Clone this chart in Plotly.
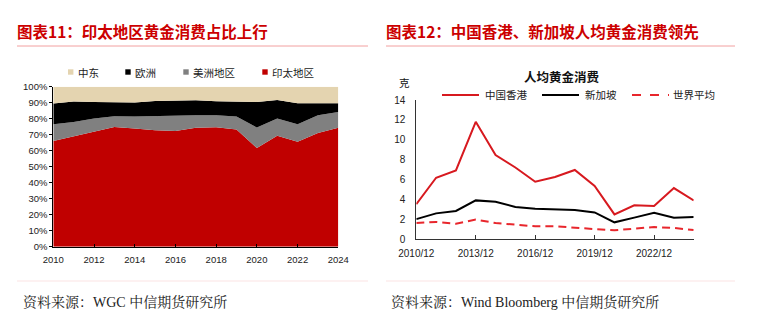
import plotly.graph_objects as go

W, H = 764, 324

def px(x):
    return x / W

def py(y):
    return 1 - y / H

# ---------------- data ----------------
years = list(range(2010, 2025))

# Chart 11: share of gold consumption by region (%)
asia_pacific = [66.0, 68.9, 72.0, 74.8, 73.8, 72.8, 72.3, 74.4, 74.7, 73.2, 61.7, 69.3, 65.6, 71.0, 74.4]
americas     = [10.6, 9.1, 8.2, 6.7, 7.6, 9.0, 9.6, 7.8, 7.5, 8.2, 12.8, 10.9, 10.9, 11.2, 9.8]
europe       = [12.9, 12.7, 10.2, 8.6, 8.7, 9.2, 9.5, 9.4, 8.7, 9.1, 16.0, 11.5, 13.1, 7.4, 5.4]
middle_east  = [10.5, 9.3, 9.6, 9.9, 9.9, 9.0, 8.6, 8.4, 9.1, 9.5, 9.5, 8.3, 10.4, 10.4, 10.4]
area_names = ["印太地区", "美洲地区", "欧洲", "中东"]
area_colors = ["#C00000", "#808080", "#000000", "#E4D4B0"]
left_xticks = list(range(2010, 2025, 2))

# Chart 12: per-capita gold consumption (grams)
hong_kong = [3.5, 6.17, 6.9, 11.8, 8.46, 7.2, 5.77, 6.25, 6.95, 5.34, 2.48, 3.39, 3.32, 5.13, 3.89]
singapore = [2.0, 2.58, 2.82, 3.89, 3.76, 3.22, 3.05, 2.99, 2.92, 2.68, 1.68, 2.15, 2.65, 2.15, 2.21]
world_avg = [1.61, 1.71, 1.54, 1.95, 1.61, 1.48, 1.28, 1.28, 1.17, 1.0, 0.87, 1.07, 1.21, 1.11, 0.9]
right_tickvals = [2010, 2013, 2016, 2019, 2022]
right_ticktext = ["2010/12", "2013/12", "2016/12", "2019/12", "2022/12"]

CJK = "Noto Sans CJK SC"
NUM = "Liberation Sans"
SERIF = "Liberation Serif, Noto Serif CJK SC, Noto Sans CJK SC"
TITLE_RED = "#CC0000"

fig = go.Figure()

for vals, name, col in zip([asia_pacific, americas, europe, middle_east], area_names, area_colors):
    fig.add_trace(go.Scatter(
        x=years, y=vals, name=name, stackgroup="share", mode="lines",
        line=dict(width=0, color=col), fillcolor=col, showlegend=False,
        xaxis="x", yaxis="y"))

line_specs = [
    (hong_kong, "中国香港", "#D7191F", "solid"),
    (singapore, "新加坡", "#000000", "solid"),
    (world_avg, "世界平均", "#E8262C", "8px,5px"),
]
for vals, name, col, dash in line_specs:
    fig.add_trace(go.Scatter(
        x=years, y=vals, name=name, mode="lines",
        line=dict(width=2, color=col, dash=dash), showlegend=False,
        xaxis="x2", yaxis="y2"))

tickfont = dict(family=NUM, size=9.5, color="#222")

fig.update_layout(
    width=W, height=H, margin=dict(l=0, r=0, t=0, b=0, autoexpand=False),
    paper_bgcolor="white", plot_bgcolor="white", showlegend=False,
    xaxis=dict(domain=[px(53.3), px(338.3)], range=[2010, 2024], tickvals=left_xticks,
               automargin=False, ticklabelstandoff=4,
               showline=True, linecolor="#000", linewidth=1, ticks="inside", ticklen=3,
               tickcolor="#000", tickfont=tickfont, showgrid=False, zeroline=False),
    yaxis=dict(domain=[py(246.7), py(86.7)], range=[0, 100], dtick=10, ticksuffix="%",
               automargin=False,
               showline=True, linecolor="#000", linewidth=1, ticks="outside", ticklen=3,
               tickcolor="#000", tickfont=tickfont, showgrid=False, zeroline=False),
    xaxis2=dict(domain=[px(416.3), px(693.7)], range=[2010, 2024], tickvals=right_tickvals,
                ticktext=right_ticktext, anchor="y2", automargin=False, ticklabelstandoff=5,
                showline=True, linecolor="#333", linewidth=1, ticks="inside", ticklen=4,
                tickcolor="#333", tickfont=dict(family=NUM, size=10, color="#222"),
                showgrid=False, zeroline=False),
    yaxis2=dict(domain=[py(239), py(100)], range=[0, 14], dtick=2, anchor="x2",
                automargin=False,
                showline=True, linecolor="#333", linewidth=1, ticks="", ticklabelstandoff=8,
                tickfont=dict(family=NUM, size=10, color="#222"),
                showgrid=False, zeroline=False),
)

annotations = []
shapes = []

def txt(x, y, text, size, color="#222", family=CJK, anchor="left", bold=False):
    if bold:
        text = "<b>" + text + "</b>"
    annotations.append(dict(x=px(x), y=py(y), xref="paper", yref="paper", text=text,
                            showarrow=False, xanchor=anchor, yanchor="middle",
                            font=dict(family=family, size=size, color=color)))

# Titles and rules
txt(15, 31, "图表11：印太地区黄金消费占比上行", 15.5, TITLE_RED, bold=True)
txt(384, 31, "图表12：中国香港、新加坡人均黄金消费领先", 15.5, TITLE_RED, bold=True)
for x0, x1 in [(17, 368), (386, 735)]:
    shapes.append(dict(type="line", xref="paper", yref="paper", x0=px(x0), x1=px(x1),
                       y0=py(46), y1=py(46), line=dict(color="#F2A0A0", width=1)))
    shapes.append(dict(type="line", xref="paper", yref="paper", x0=px(x0), x1=px(x1),
                       y0=py(281), y1=py(281), line=dict(color="#FBE3E3", width=1)))

# Footers
txt(21, 302, "资料来源：WGC 中信期货研究所", 14, "#222", family=SERIF)
txt(389, 302, "资料来源：Wind Bloomberg 中信期货研究所", 14, "#222", family=SERIF)

# Left legend (squares + labels), order as in reference
legend_left = [("中东", "#E4D4B0", 70.7, 77), ("欧洲", "#000000", 128, 134),
               ("美洲地区", "#808080", 186, 192), ("印太地区", "#C00000", 265, 271)]
for name, col, mx, tx in legend_left:
    shapes.append(dict(type="rect", xref="paper", yref="paper",
                       x0=px(mx - 2.7), x1=px(mx + 2.7), y0=py(72 + 2.7), y1=py(72 - 2.7),
                       fillcolor=col, line=dict(width=0)))
    txt(tx - 1, 72, name, 10.5, "#222")

# Right chart title, unit, legend
txt(562, 77, "人均黄金消费", 12.5, "#111", anchor="center", bold=True)
txt(397, 82, "克", 10.5, "#111")
legend_right = [("中国香港", "#D7191F", "solid", 442, 479, 483),
                ("新加坡", "#000000", "solid", 542, 579, 583),
                ("世界平均", "#E8262C", "dash", 632, 669, 671)]
for name, col, dash, x0, x1, tx in legend_right:
    shapes.append(dict(type="line", xref="paper", yref="paper", x0=px(x0), x1=px(x1),
                       y0=py(95), y1=py(95), line=dict(color=col, width=2, dash=dash)))
    txt(tx, 95, name, 10.5, "#222")

fig.update_layout(annotations=annotations, shapes=shapes)
fig.write_html("out.html")
